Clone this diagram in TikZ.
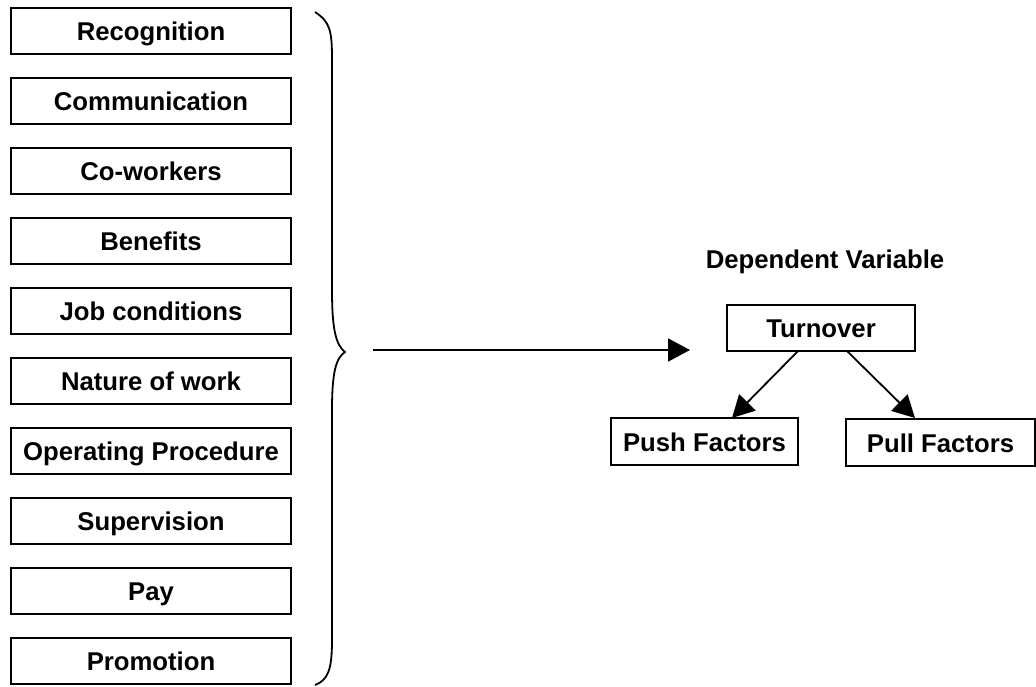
\documentclass[tikz,border=0pt]{standalone}
\usepackage{fontspec}
\setmainfont{Liberation Sans}
\usetikzlibrary{arrows.meta}
\tikzset{
  txt/.style={font=\fontsize{25.7}{30}\selectfont\bfseries},
  box/.style={draw, line width=1.8pt, minimum height=46pt, inner sep=0pt,
    text height=19pt, text depth=0pt, txt},
  leftbox/.style={box, minimum width=280pt},
  conn/.style={line width=1.8pt, -{Triangle[length=22pt,width=23pt]}},
  brace/.style={line width=1.8pt, line join=round}
}
\begin{document}
\begin{tikzpicture}[x=1pt,y=-1pt]
\useasboundingbox (0,0) rectangle (1036,686);
\foreach \t [count=\i from 0] in {Recognition,Communication,Co-workers,Benefits,Job conditions,Nature of work,Operating Procedure,Supervision,Pay,Promotion}{
  \node[leftbox] (b\i) at (151,{31+70*\i}) {\t};
}
% brace
\draw[brace] (315,12) .. controls (330,22) and (332,30) .. (332,60)
  -- (332,290) .. controls (332,330) and (336,345) .. (345,352)
  .. controls (336,358) and (332,372) .. (332,410)
  -- (332,640) .. controls (332,670) and (328,680) .. (315,685);
\coordinate (tip) at (373,350);
\coordinate (aend) at (690,350);
\draw[conn] (tip) -- (aend);

\node[txt, anchor=base, inner sep=0pt] (dv) at (825,268) {Dependent Variable};
\node[box, minimum width=188pt] (turn) at (821,328) {Turnover};
\node[box, minimum width=187pt, minimum height=47pt] (push) at (704.5,441.5) {Push Factors};
\node[box, minimum width=189pt, minimum height=47pt] (pull) at (940.5,442.5) {Pull Factors};
\draw[conn] (798,351) -- (732,418);
\draw[conn] (847,351) -- (915,418);
\end{tikzpicture}
\end{document}
